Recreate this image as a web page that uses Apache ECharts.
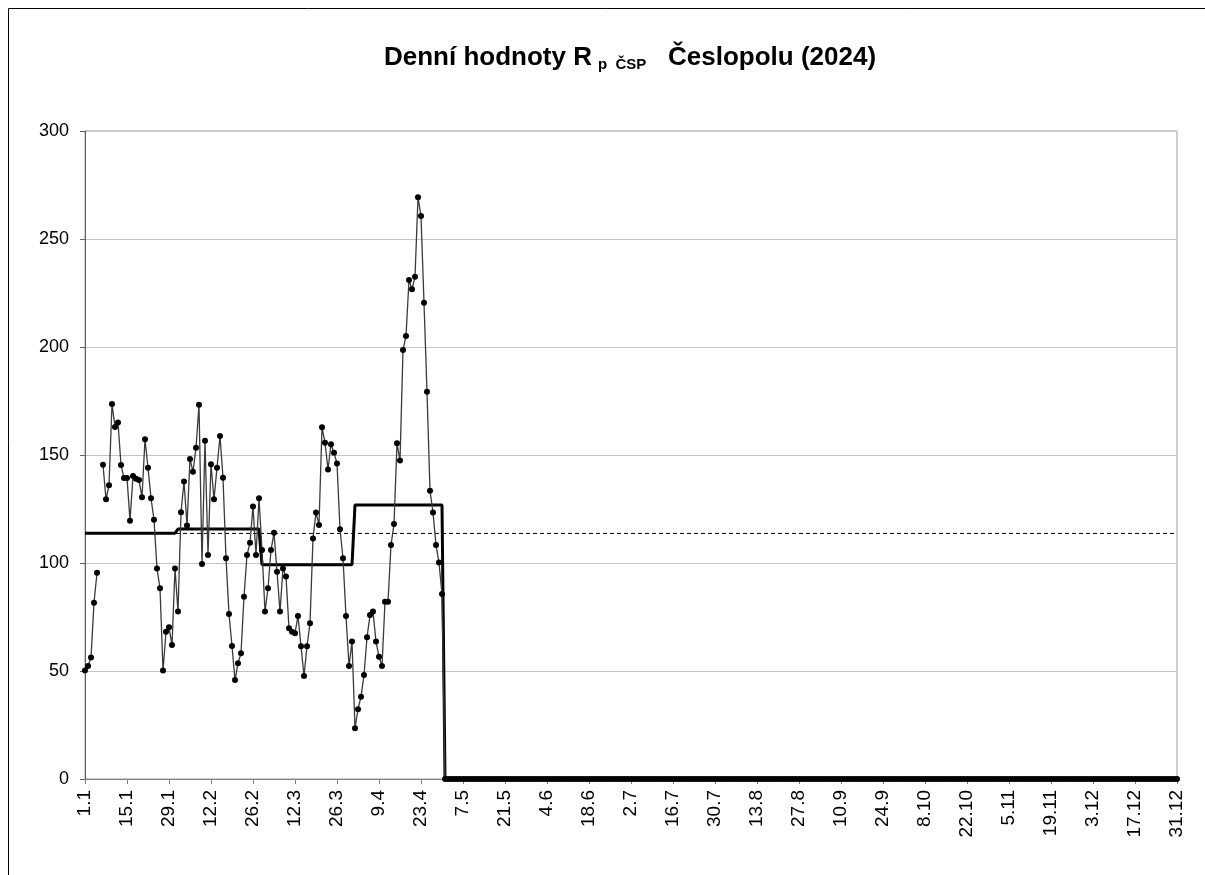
<!DOCTYPE html>
<html>
<head>
<meta charset="utf-8">
<script src="https://cdn.jsdelivr.net/npm/echarts@6/dist/echarts.min.js"></script>
<style>
  html, body { margin: 0; padding: 0; background: #fff; }
  #chart { width: 1205px; height: 875px; }
</style>
</head>
<body>
<div id="chart"></div>
<script>
// tick labels shown every 14th day
var tickLabels = ["1.1", "15.1", "29.1", "12.2", "26.2", "12.3", "26.3", "9.4", "23.4", "7.5",
  "21.5", "4.6", "18.6", "2.7", "16.7", "30.7", "13.8", "27.8", "10.9", "24.9", "8.10",
  "22.10", "5.11", "19.11", "3.12", "17.12", "31.12"];

var monthDays = [31, 28, 31, 30, 31, 30, 31, 31, 30, 31, 30, 31];
// monthly mean (thick step line)
var monthMeans = [113.8, 115.7, 99.2, 126.9, 0, 0, 0, 0, 0, 0, 0, 0];
// yearly mean (dashed)
var yearMean = 113.7;

// daily values 1.1 - 30.4 (null = missing day)
var dailyJanApr = [
  50.2, 52.3, 56.3, 81.6, 95.5, null, 145.5, 129.5, 136, 173.6,
  163, 165, 145.4, 139.4, 139.4, 119.6, 140.3, 139, 138.4, 130.4,
  157.3, 144.1, 130, 120, 97.4, 88.3, 50.2, 68.2, 70.2, 62,
  97.4, 77.5, 123.5, 137.7, 117.4, 148.1, 142.3, 153.4, 173.3, 99.5,
  156.6, 103.7, 145.7, 129.5, 144.1, 158.8, 139.5, 102.2, 76.4, 61.6,
  45.8, 53.6, 58.2, 84.4, 103.7, 109.4, 126.1, 103.7, 130, 106,
  77.5, 88.3, 106, 114, 96, 77.5, 97.5, 93.7, 69.8, 68.2,
  67.5, 75.5, 61.5, 47.7, 61.5, 72.1, 111.4, 123.4, 117.6, 162.8,
  155.7, 143.3, 155, 151, 146.1, 115.6, 102.2, 75.5, 52.3, 63.6,
  23.5, 32.3, 38.1, 48.1, 65.6, 75.9, 77.5, 63.6, 56.6, 52.3,
  82.1, 82.1, 108.3, 118, 155.4, 147.4, 198.6, 205.1, 231, 226.7,
  232.5, 269.3, 260.6, 220.5, 179.3, 133.5, 123.4, 108.3, 100.2, 85.6
];
// rest of the year recorded as 0
var dailyMayDec = new Array(245).fill(0);

var yTicks = [0, 50, 100, 150, 200, 250, 300];

var days = [];
var monthly = [];
for (var m = 0; m < monthDays.length; m++) {
  for (var d = 0; d < monthDays[m]; d++) {
    days.push(days.length);
    monthly.push(monthMeans[m]);
  }
}
var daily = dailyJanApr.concat(dailyMayDec);
var yearly = days.map(function () { return yearMean; });

var chart = echarts.init(document.getElementById("chart"));
var option = {
  backgroundColor: "#fff",
  animation: false,
  textStyle: { fontFamily: "Liberation Sans, Arial, sans-serif", color: "#000" },
  title: {
    left: 379,
    top: 39,
    text: "{a|Denní hodnoty R}{b|p  ČSP}{a|   Česlopolu (2024)}",
    textStyle: {
      rich: {
        a: { fontSize: 26, fontWeight: "bold", color: "#000", fontFamily: "Liberation Sans" },
        b: { fontSize: 15, fontWeight: "bold", color: "#000", fontFamily: "Liberation Sans", padding: [13, 0, 0, 6] }
      }
    }
  },
  // outer frame of the picture
  graphic: [
    { type: "line", shape: { x1: 8.5, y1: 8.5, x2: 8.5, y2: 875 }, style: { stroke: "#000", lineWidth: 1 } },
    { type: "line", shape: { x1: 8.5, y1: 8.5, x2: 1205, y2: 8.5 }, style: { stroke: "#000", lineWidth: 1 } }
  ],
  grid: {
    left: 85, right: 28, top: 131, bottom: 96,
    show: true, borderColor: "#a0a0a0", borderWidth: 1
  },
  xAxis: {
    type: "category",
    data: days,
    boundaryGap: false,
    axisLine: { lineStyle: { color: "#808080", width: 1 } },
    axisTick: { interval: 13, length: 5, lineStyle: { color: "#808080" } },
    axisLabel: {
      interval: 13,
      rotate: 90,
      fontSize: 19,
      color: "#000",
      margin: 11,
      formatter: function (v, i) { return tickLabels[i / 14]; }
    },
    splitLine: { show: false }
  },
  yAxis: {
    type: "value",
    min: yTicks[0],
    max: yTicks[yTicks.length - 1],
    interval: 50,
    axisLine: { show: true, lineStyle: { color: "#606060", width: 1 } },
    axisTick: { show: true, length: 5, lineStyle: { color: "#606060" } },
    axisLabel: { fontSize: 18, color: "#000", margin: 16 },
    splitLine: { lineStyle: { color: "#c4c4c4", width: 1 } }
  },
  series: [
    {
      name: "rok",
      type: "line",
      data: yearly,
      symbol: "none",
      lineStyle: { color: "#000", width: 1, type: [4, 3] },
      z: 2
    },
    {
      name: "měsíc",
      type: "line",
      data: monthly,
      symbol: "none",
      lineStyle: { color: "#000", width: 3 },
      z: 3
    },
    {
      name: "den",
      type: "line",
      data: daily,
      connectNulls: false,
      symbol: "circle",
      symbolSize: 6,
      showAllSymbol: true,
      itemStyle: { color: "#000" },
      lineStyle: { color: "#3a3a3a", width: 1.3 },
      z: 4
    }
  ]
};
chart.setOption(option);
</script>
</body>
</html>
